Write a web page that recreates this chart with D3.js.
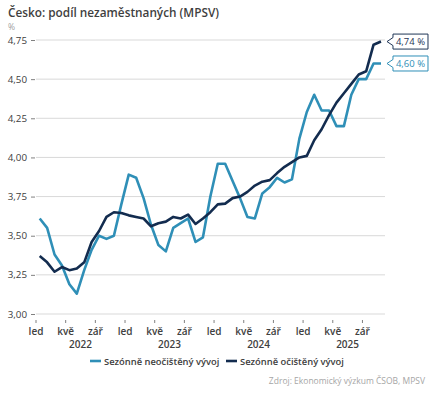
<!DOCTYPE html>
<html><head><meta charset="utf-8">
<script src="https://cdn.jsdelivr.net/npm/d3@7/dist/d3.min.js"></script>
<style>
html,body{margin:0;padding:0;background:#fff;}
svg{display:block;font-family:"Open Sans","Noto Sans",sans-serif;}
</style></head>
<body>
<svg id="chart" width="441" height="394"></svg>
<script>
// ---- data (Jan 2022 .. Nov 2025) ----
const startYear = 2022;
const monthCount = 47;
const nsaValues = [3.61,3.55,3.38,3.31,3.19,3.13,3.28,3.41,3.50,3.48,3.50,3.70,
                   3.89,3.87,3.74,3.57,3.44,3.40,3.55,3.58,3.61,3.46,3.49,3.75,
                   3.96,3.96,3.85,3.74,3.62,3.61,3.77,3.81,3.87,3.84,3.86,4.12,
                   4.29,4.40,4.30,4.30,4.20,4.20,4.40,4.50,4.50,4.60,4.60];
const saValues  = [3.37,3.33,3.27,3.30,3.28,3.29,3.33,3.46,3.53,3.62,3.65,3.645,
                   3.63,3.62,3.61,3.56,3.58,3.59,3.62,3.61,3.635,3.575,3.61,3.65,
                   3.70,3.705,3.74,3.75,3.78,3.82,3.845,3.855,3.90,3.94,3.97,4.00,
                   4.01,4.11,4.18,4.27,4.35,4.41,4.47,4.53,4.55,4.72,4.74];
const yTicks = [3.00,3.25,3.50,3.75,4.00,4.25,4.50,4.75];
const monthTickIdx = [0,4,8];
const monthTickLabels = ["led","kvě","zář"];
const yearLabels = ["2022","2023","2024","2025"];
const seriesNames = ["Sezónně neočištěný vývoj","Sezónně očištěný vývoj"];
const endLabels = ["4,60 %","4,74 %"];
const titleText = "Česko: podíl nezaměstnaných (MPSV)";
const unitText = "%";
const sourceText = "Zdroj: Ekonomický výzkum ČSOB, MPSV";

const cLight = "#2f8fb7", cDark = "#132c4f";
const svg = d3.select("#chart");

const x = d3.scaleLinear().domain([0, monthCount]).range([36, 384.7]);
const y = d3.scaleLinear().domain([3, 4.75]).range([314, 40]);

// title
svg.append("text").attr("x",8).attr("y",17).attr("font-size",11.8).attr("font-weight",600)
  .attr("fill","#3f3f3f").text(titleText);
svg.append("text").attr("x",8).attr("y",30).attr("font-size",8.5).attr("fill","#a0a0a0").text(unitText);

// gridlines + y axis
const yAxis = d3.axisLeft(y).tickValues(yTicks).tickSize(4).tickPadding(4)
  .tickFormat(d => d3.format(".2f")(d).replace(".", ","));
const gy = svg.append("g").attr("transform","translate(35,0)").call(yAxis);
gy.select(".domain").remove();
gy.selectAll(".tick line").attr("stroke","#808080");
gy.selectAll(".tick text").attr("font-size",9.8).attr("fill","#404040")
  .attr("font-family","'Open Sans',sans-serif");
svg.append("g").selectAll("line").data(yTicks).join("line")
  .attr("x1",36).attr("x2",385).attr("y1",d=>y(d)).attr("y2",d=>y(d))
  .attr("stroke","#d9d9d9").attr("stroke-width",1);

// x axis ticks & labels
const tickData = [];
yearLabels.forEach((yr, k) => {
  monthTickIdx.forEach((m, j) => {
    const idx = k*12 + m;
    if (idx < monthCount) tickData.push({idx, label: monthTickLabels[j]});
  });
});
const gx = svg.append("g");
gx.selectAll("line").data(tickData).join("line")
  .attr("x1",d=>x(d.idx)).attr("x2",d=>x(d.idx)).attr("y1",320).attr("y2",323)
  .attr("stroke","#808080");
gx.selectAll("text.m").data(tickData).join("text").attr("class","m")
  .attr("x",d=>x(d.idx)).attr("y",335).attr("text-anchor","middle")
  .attr("font-size",10).attr("font-weight",600).attr("fill","#404040").text(d=>d.label);
gx.selectAll("text.yr").data(yearLabels).join("text").attr("class","yr")
  .attr("x",(d,k)=>x(k*12+6)).attr("y",348).attr("text-anchor","middle")
  .attr("font-size",10).attr("font-weight",600).attr("fill","#404040").text(d=>d);

// lines
const line = d3.line().x((d,i)=>x(i+0.5)).y(d=>y(d));
svg.append("path").datum(nsaValues).attr("d",line).attr("fill","none")
  .attr("stroke",cLight).attr("stroke-width",2.6).attr("stroke-linejoin","round");
svg.append("path").datum(saValues).attr("d",line).attr("fill","none")
  .attr("stroke",cDark).attr("stroke-width",2.6).attr("stroke-linejoin","round");

// end callouts
function callout(val, txt, col) {
  const tipX = x(monthCount-0.5) + 6, tipY = y(val);
  const bx = tipX + 6, bw = 35, bh = 15, by = tipY - bh/2;
  const p = `M${bx},${by} H${bx+bw} V${by+bh} H${bx} V${tipY+4} L${tipX},${tipY} L${bx},${tipY-4} Z`;
  svg.append("path").attr("d",p).attr("fill","#fff").attr("stroke",col).attr("stroke-width",1);
  svg.append("text").attr("x",bx+bw/2).attr("y",tipY+3.5).attr("text-anchor","middle")
    .attr("font-size",9.5).attr("fill",col).text(txt);
}
callout(saValues[monthCount-1], endLabels[1], "#1f3556");
callout(nsaValues[monthCount-1], endLabels[0], cLight);

// legend
const lg = svg.append("g");
const legendItems = [{n:seriesNames[0],c:cLight,x:90},{n:seriesNames[1],c:cDark,x:226}];
legendItems.forEach(it => {
  lg.append("line").attr("x1",it.x).attr("x2",it.x+11).attr("y1",361).attr("y2",361)
    .attr("stroke",it.c).attr("stroke-width",2.6);
  lg.append("text").attr("x",it.x+14).attr("y",364.5).attr("font-size",9.4).attr("font-weight",600)
    .attr("fill","#404040").text(it.n);
});

// source
svg.append("text").attr("x",425).attr("y",384).attr("text-anchor","end")
  .attr("font-size",8.5).attr("fill","#a6a6a6").text(sourceText);
</script>
</body></html>
